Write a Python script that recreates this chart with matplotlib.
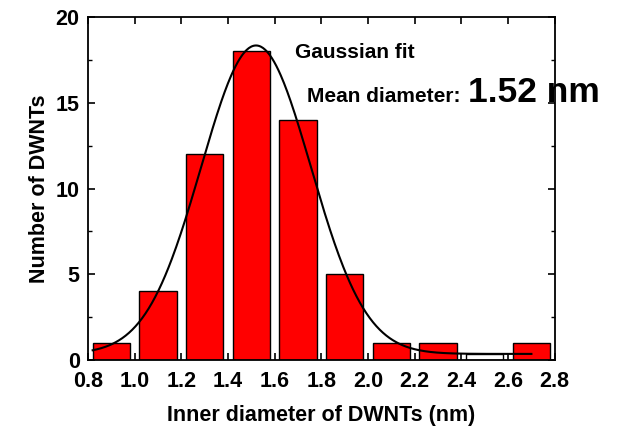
import numpy as np
import matplotlib
matplotlib.use("Agg")
import matplotlib.pyplot as plt
from matplotlib.ticker import MultipleLocator, FormatStrFormatter

plt.rcParams['font.family'] = ['Liberation Sans', 'DejaVu Sans']
plt.rcParams['font.weight'] = 'bold'

# Histogram data
bin_centers = [0.9, 1.1, 1.3, 1.5, 1.7, 1.9, 2.1, 2.3, 2.5, 2.7]
counts = [1, 4, 12, 18, 14, 5, 1, 1, 0.35, 1]
bar_colors = ['#ff0000'] * 8 + ['white', '#ff0000']

# Gaussian fit parameters
fit_center = 1.52
fit_sigma = 0.235
fit_amp = 18.0
fit_offset = 0.35
fit_range = (0.82, 2.70)

fig = plt.figure(figsize=(6.24, 4.30), dpi=100)
ax = fig.add_axes([0.141, 0.163, 0.748, 0.797])

ax.bar(bin_centers, counts, width=0.16, color=bar_colors, edgecolor='black', linewidth=1.0, zorder=2)

xf = np.linspace(fit_range[0], fit_range[1], 400)
yf = fit_offset + fit_amp * np.exp(-(xf - fit_center) ** 2 / (2 * fit_sigma ** 2))
ax.plot(xf, yf, color='black', linewidth=1.5, zorder=3)

ax.set_xlim(0.8, 2.8)
ax.set_ylim(0, 20)
ax.xaxis.set_major_locator(MultipleLocator(0.2))
ax.yaxis.set_major_locator(MultipleLocator(5))
ax.yaxis.set_minor_locator(MultipleLocator(2.5))
ax.xaxis.set_major_formatter(FormatStrFormatter('%.1f'))

ax.tick_params(axis='both', which='major', direction='in', length=5, width=1.2,
               labelsize=15.5, top=True, right=True)
ax.tick_params(axis='x', which='major', pad=8)
ax.tick_params(axis='y', which='major', pad=6)
ax.tick_params(axis='y', which='minor', direction='in', length=3, width=1.0, right=True)
for lab in ax.get_xticklabels() + ax.get_yticklabels():
    lab.set_fontweight('bold')
for s in ax.spines.values():
    s.set_linewidth(1.3)

ax.set_xlabel('Inner diameter of DWNTs (nm)', fontsize=15.5, fontweight='bold', labelpad=9)
ax.set_ylabel('Number of DWNTs', fontsize=15.5, fontweight='bold', labelpad=4)

fig.text(295 / 624, 1 - 58 / 430, 'Gaussian fit', fontsize=15, fontweight='bold', va='baseline', ha='left')
fig.text(307 / 624, 1 - 102 / 430, 'Mean diameter:', fontsize=15, fontweight='bold', va='baseline', ha='left')
fig.text(468 / 624, 1 - 102 / 430, '1.52 nm', fontsize=25.5, fontweight='bold', va='baseline', ha='left')

fig.savefig('out.png', dpi=100)
